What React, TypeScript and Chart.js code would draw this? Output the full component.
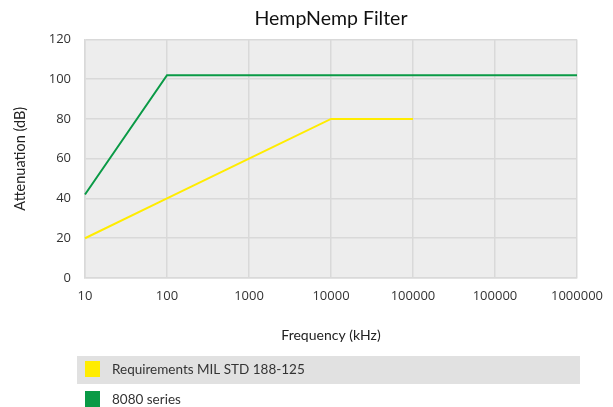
import React, { useEffect, useRef } from "react";
import { Chart, registerables } from "chart.js";

Chart.register(...registerables);

const categories = ["10", "100", "1000", "10000", "100000", "100000", "1000000"];
const requirementsValues: (number | null)[] = [20, 40, 60, 80, 80, null, null];
const series8080Values: (number | null)[] = [42, 102, 102, 102, 102, 102, 102];
const yTicks = [0, 20, 40, 60, 80, 100, 120];

const seriesNames = ["Requirements MIL STD 188-125", "8080 series"];
const seriesColors = ["#ffec00", "#0a9a46"];

const FONT = "Lato, 'Open Sans', sans-serif";
const TICK_FONT = "'Open Sans', 'DejaVu Sans', sans-serif";

const bgPlugin = {
  id: "plotBg",
  beforeDraw(chart: any) {
    const { ctx, chartArea } = chart;
    ctx.save();
    ctx.fillStyle = "#ededed";
    ctx.fillRect(chartArea.left, chartArea.top, chartArea.right - chartArea.left, chartArea.bottom - chartArea.top);
    ctx.restore();
  },
};

const legendPlugin = {
  id: "rowLegend",
  afterDraw(chart: any) {
    const { ctx } = chart;
    const ds = chart.data.datasets;
    ctx.save();
    const rowTops = [356, 386];
    ds.forEach((d: any, i: number) => {
      const top = rowTops[i];
      if (i === 0) {
        ctx.fillStyle = "#e1e1e1";
        ctx.fillRect(77, top, 503, 28);
      }
      ctx.fillStyle = d.borderColor;
      ctx.fillRect(85, top + 5, 15, 16);
      ctx.fillStyle = "#333333";
      ctx.font = `13.5px ${FONT}`;
      ctx.textBaseline = "middle";
      ctx.textAlign = "left";
      ctx.fillText(d.label, 112, top + 14);
    });
    ctx.restore();
  },
};

export default function App() {
  const ref = useRef<HTMLCanvasElement | null>(null);
  useEffect(() => {
    if (!ref.current) return;
    const chart = new Chart(ref.current, {
      type: "line",
      data: {
        labels: categories,
        datasets: [
          {
            label: seriesNames[0],
            data: requirementsValues,
            borderColor: seriesColors[0],
            backgroundColor: seriesColors[0],
            borderWidth: 2,
            pointRadius: 0,
            tension: 0,
          },
          {
            label: seriesNames[1],
            data: series8080Values,
            borderColor: seriesColors[1],
            backgroundColor: seriesColors[1],
            borderWidth: 2,
            pointRadius: 0,
            tension: 0,
          },
        ],
      },
      options: {
        animation: false,
        responsive: false,
        maintainAspectRatio: false,
        layout: { padding: { left: 0, right: 34, top: 1, bottom: 54 } },
        plugins: {
          legend: { display: false },
          tooltip: { enabled: false },
          title: {
            display: true,
            text: "HempNemp Filter",
            fullSize: false,
            color: "#111111",
            font: { family: FONT, size: 19.5, weight: "normal" },
            padding: { top: 6, bottom: 9 },
          },
        },
        scales: {
          x: {
            type: "category",
            offset: false,
            afterFit: (s: any) => { s.height = 75; },
            grid: { color: "#d9d9d9", lineWidth: 1.5, drawTicks: false },
            border: { color: "#d9d9d9", width: 1.5 },
            ticks: {
              color: "#333333",
              font: { family: TICK_FONT, size: 13 },
              padding: 10,
              maxRotation: 0,
              autoSkip: false,
            },
            title: {
              display: true,
              text: "Frequency (kHz)",
              color: "#222222",
              font: { family: FONT, size: 14 },
              padding: { top: 0, bottom: 9 },
            },
          },
          y: {
            min: 0,
            max: 120,
            afterFit: (s: any) => { s.width = 85; },
            afterBuildTicks: (s: any) => { s.ticks = yTicks.map((v) => ({ value: v })); },
            grid: { color: "#d9d9d9", lineWidth: 1.5, drawTicks: false },
            border: { color: "#d9d9d9", width: 1.5 },
            ticks: {
              color: "#333333",
              font: { family: TICK_FONT, size: 13 },
              padding: 14,
            },
            title: {
              display: true,
              text: "Attenuation (dB)",
              color: "#222222",
              font: { family: FONT, size: 14.5 },
              padding: { top: 12, bottom: 0 },
            },
          },
        },
      },
      plugins: [bgPlugin, legendPlugin],
    });
    return () => chart.destroy();
  }, []);
  return (
    <div style={{ position: "fixed", left: 0, top: 0, width: 613, height: 407, background: "#fff" }}>
      <canvas ref={ref} width={613} height={407} style={{ display: "block" }} />
    </div>
  );
}
